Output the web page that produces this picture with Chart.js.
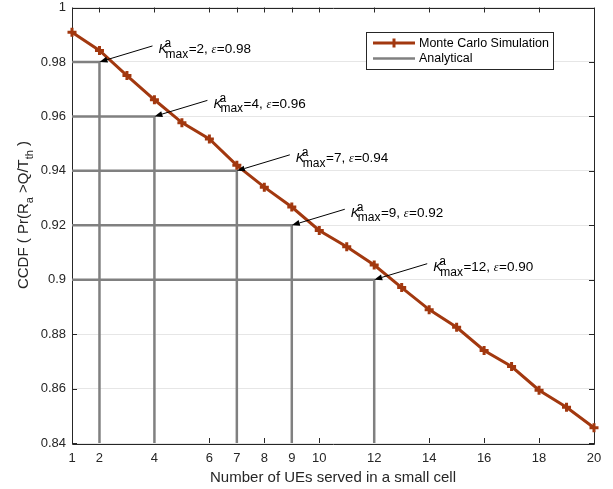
<!DOCTYPE html>
<html>
<head>
<meta charset="utf-8">
<script src="https://cdn.jsdelivr.net/npm/chart.js@4/dist/chart.umd.min.js"></script>
<style>
  html, body { margin: 0; padding: 0; background: #ffffff; }
  #wrap { width: 613px; height: 489px; position: relative; }
</style>
</head>
<body>
<div id="wrap"><canvas id="c" width="613" height="489"></canvas></div>
<script>
// ---- data ----
const usersPerCell = [1, 2, 3, 4, 5, 6, 7, 8, 9, 10, 11, 12, 13, 14, 15, 16, 17, 18, 19, 20];
const monteCarlo = [0.9909, 0.9842, 0.9750, 0.9661, 0.9577, 0.9517, 0.9420, 0.9340, 0.9267, 0.9181,
                    0.9121, 0.9054, 0.8971, 0.8890, 0.8825, 0.8740, 0.8681, 0.8594, 0.8531, 0.8456];
const kMax = [2, 4, 7, 9, 12];
const epsilon = [0.98, 0.96, 0.94, 0.92, 0.90];
const epsilonLabels = ['0.98', '0.96', '0.94', '0.92', '0.90'];
const xTicks = [1, 2, 4, 6, 7, 8, 9, 10, 12, 14, 16, 18, 20];
const xTickLabels = ['1', '2', '4', '6', '7', '8', '9', '10', '12', '14', '16', '18', '20'];
const yTicks = [0.84, 0.86, 0.88, 0.90, 0.92, 0.94, 0.96, 0.98, 1.0];
const yTickLabels = ['0.84', '0.86', '0.88', '0.9', '0.92', '0.94', '0.96', '0.98', '1'];
const xMin = 1, xMax = 20, yMin = 0.84, yMax = 1.0;
const seriesNames = ['Monte Carlo Simulation', 'Analytical'];

// ---- styles ----
const RED = '#a2380f';
const GRAY = '#808080';
const AX = '#262626';
const FONT = '"Liberation Sans", Arial, Helvetica, sans-serif';

const datasets = [{
  label: seriesNames[0],
  data: usersPerCell.map((x, i) => ({ x: x, y: monteCarlo[i] })),
  borderColor: RED,
  backgroundColor: RED,
  borderWidth: 3,
  pointStyle: 'cross',
  pointRadius: 4.5,
  pointBorderWidth: 3,
  pointBorderColor: RED,
  tension: 0,
  clip: false,
  order: 0
}];
kMax.forEach((k, i) => {
  datasets.push({
    label: seriesNames[1],
    data: [{ x: xMin, y: epsilon[i] }, { x: k, y: epsilon[i] }, { x: k, y: yMin }],
    borderColor: GRAY,
    borderWidth: 2.5,
    pointRadius: 0,
    tension: 0,
    order: 1
  });
});

const decor = {
  id: 'decor',
  beforeDatasetsDraw(chart) {
    const ctx = chart.ctx;
    const xs = chart.scales.x, ys = chart.scales.y;
    const a = chart.chartArea;
    ctx.save();
    // box
    ctx.strokeStyle = AX;
    ctx.lineWidth = 1;
    ctx.beginPath();
    ctx.rect(Math.round(a.left) + 0.5, Math.round(a.top) + 0.5, Math.round(a.right - a.left), Math.round(a.bottom - a.top));
    ctx.stroke();
    // inward ticks
    const tl = 5;
    ctx.beginPath();
    xTicks.forEach(v => {
      const px = Math.round(xs.getPixelForValue(v)) + 0.5;
      ctx.moveTo(px, a.bottom); ctx.lineTo(px, a.bottom - tl);
      ctx.moveTo(px, a.top); ctx.lineTo(px, a.top + tl);
    });
    yTicks.forEach(v => {
      const py = Math.round(ys.getPixelForValue(v)) + 0.5;
      ctx.moveTo(a.left, py); ctx.lineTo(a.left + tl, py);
      ctx.moveTo(a.right, py); ctx.lineTo(a.right - tl, py);
    });
    ctx.stroke();
    ctx.restore();
  },
  afterDatasetsDraw(chart) {
    const ctx = chart.ctx;
    const xs = chart.scales.x, ys = chart.scales.y;
    const a = chart.chartArea;
    ctx.save();

    // annotations with arrows
    kMax.forEach((k, i) => {
      const tx = xs.getPixelForValue(k);
      const ty = ys.getPixelForValue(epsilon[i]);
      const sx = tx + 53, sy = ty - 16;
      const ang = Math.atan2(ty - sy, tx - sx);
      const hl = 8, hw = 3;
      const bx = tx - hl * Math.cos(ang), by = ty - hl * Math.sin(ang);
      ctx.strokeStyle = '#000';
      ctx.lineWidth = 1;
      ctx.beginPath();
      ctx.moveTo(sx, sy); ctx.lineTo(bx, by);
      ctx.stroke();
      ctx.fillStyle = '#000';
      ctx.beginPath();
      ctx.moveTo(tx, ty);
      ctx.lineTo(bx + hw * Math.sin(ang), by - hw * Math.cos(ang));
      ctx.lineTo(bx - hw * Math.sin(ang), by + hw * Math.cos(ang));
      ctx.closePath();
      ctx.fill();
      // text
      let x = sx + 6;
      const base = sy + 7.5;
      ctx.fillStyle = '#000';
      ctx.textBaseline = 'alphabetic';
      ctx.textAlign = 'left';
      ctx.font = 'italic 13.5px ' + FONT;
      ctx.fillText('K', x, base);
      const wK = ctx.measureText('K').width;
      ctx.font = '12px ' + FONT;
      ctx.fillText('a', x + wK - 3, base - 6);
      const wa = ctx.measureText('a').width;
      ctx.fillText('max', x + wK - 2, base + 4.5);
      const wm = ctx.measureText('max').width;
      x = x + wK - 2 + Math.max(wm, wa) + 0.5;
      ctx.font = '13.5px ' + FONT;
      const t1 = '=' + k + ', ';
      ctx.fillText(t1, x, base);
      x += ctx.measureText(t1).width;
      ctx.font = 'italic 12px "Liberation Serif", "Times New Roman", serif';
      ctx.fillText('\u03b5', x, base);
      x += ctx.measureText('\u03b5').width + 0.5;
      ctx.font = '13.5px ' + FONT;
      ctx.fillText('=' + epsilonLabels[i], x, base);
    });

    // legend
    const lx = 366, ly = 32, lw = 187, lh = 37;
    ctx.fillStyle = '#fff';
    ctx.fillRect(lx, ly, lw, lh);
    ctx.strokeStyle = AX;
    ctx.lineWidth = 1;
    ctx.strokeRect(lx + 0.5, ly + 0.5, lw, lh);
    const r1 = ly + 11, r2 = ly + 26.5;
    ctx.lineWidth = 3;
    ctx.strokeStyle = RED;
    ctx.beginPath(); ctx.moveTo(373, r1); ctx.lineTo(415, r1); ctx.stroke();
    ctx.beginPath(); ctx.moveTo(394, r1 - 4.5); ctx.lineTo(394, r1 + 4.5); ctx.stroke();
    ctx.lineWidth = 2.5;
    ctx.strokeStyle = GRAY;
    ctx.beginPath(); ctx.moveTo(373, r2); ctx.lineTo(415, r2); ctx.stroke();
    ctx.fillStyle = '#000';
    ctx.font = '12.5px ' + FONT;
    ctx.textBaseline = 'middle';
    ctx.fillText(seriesNames[0], 419, r1 + 0.5);
    ctx.fillText(seriesNames[1], 419, r2 + 0.5);

    // x title
    ctx.fillStyle = AX;
    ctx.font = '15px ' + FONT;
    ctx.textAlign = 'center';
    ctx.textBaseline = 'alphabetic';
    ctx.fillText('Number of UEs served in a small cell', (a.left + a.right) / 2, 482);

    // y title (rotated, with subscripts)
    ctx.save();
    ctx.translate(28, 215);
    ctx.rotate(-Math.PI / 2);
    const parts = [
      ['CCDF ( Pr(R', 0, 15], ['a', 4.5, 11], [' >Q/T', 0, 15], ['th', 4.5, 11], [' )', 0, 15]
    ];
    let total = 0;
    parts.forEach(p => { ctx.font = p[2] + 'px ' + FONT; total += ctx.measureText(p[0]).width; });
    let px = -total / 2;
    ctx.textAlign = 'left';
    parts.forEach(p => {
      ctx.font = p[2] + 'px ' + FONT;
      ctx.fillText(p[0], px, p[1]);
      px += ctx.measureText(p[0]).width;
    });
    ctx.restore();

    ctx.restore();
  }
};

new Chart(document.getElementById('c'), {
  type: 'line',
  data: { datasets: datasets },
  options: {
    responsive: false,
    animation: false,
    devicePixelRatio: 1,
    layout: { padding: { top: 5, right: 19, left: 0, bottom: 0 } },
    plugins: { legend: { display: false }, tooltip: { enabled: false }, title: { display: false } },
    scales: {
      x: {
        type: 'linear', min: xMin, max: xMax,
        afterBuildTicks: s => { s.ticks = xTicks.map(v => ({ value: v })); },
        afterFit: s => { s.height = 46; s.paddingLeft = 0; s.paddingRight = 0; },
        ticks: {
          autoSkip: false, maxRotation: 0, padding: 8, color: AX,
          font: { family: FONT, size: 13 },
          callback: (v, i) => xTickLabels[i]
        },
        grid: { display: false, drawTicks: false },
        border: { display: false }
      },
      y: {
        type: 'linear', min: yMin, max: yMax,
        afterBuildTicks: s => { s.ticks = yTicks.map(v => ({ value: v })); },
        afterFit: s => { s.width = 72; s.paddingTop = 0; s.paddingBottom = 0; },
        ticks: {
          autoSkip: false, padding: 6, color: AX,
          font: { family: FONT, size: 13 },
          callback: (v, i) => yTickLabels[i]
        },
        grid: { color: '#e6e6e6', lineWidth: 1, drawTicks: false },
        border: { display: false }
      }
    }
  },
  plugins: [decor]
});
</script>
</body>
</html>
